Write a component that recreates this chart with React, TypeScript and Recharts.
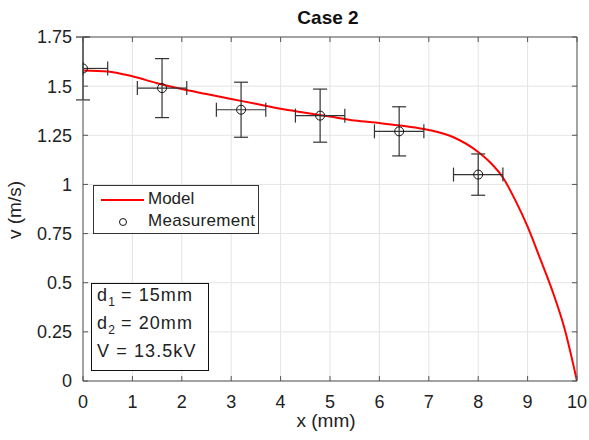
import {
  CartesianGrid,
  ComposedChart,
  ErrorBar,
  Legend,
  Line,
  Scatter,
  XAxis,
  YAxis,
} from "recharts"

// model curve
const MODEL_X = [0, 0.5, 1, 1.5, 2, 2.5, 3, 3.5, 4, 4.5, 5, 5.5, 6, 6.5, 7, 7.5, 8, 8.25, 8.5, 8.75, 9, 9.25, 9.5, 9.75, 10]
const MODEL_V = [1.58, 1.575, 1.55, 1.515, 1.485, 1.46, 1.435, 1.41, 1.385, 1.365, 1.345, 1.325, 1.312, 1.297, 1.277, 1.24, 1.165, 1.11, 1.035, 0.92, 0.785, 0.625, 0.46, 0.265, 0]

// measurements; error extents as drawn (first point is cut by the axes)
const MEAS_X = [0, 1.6, 3.2, 4.8, 6.4, 8]
const MEAS_V = [1.59, 1.49, 1.38, 1.35, 1.27, 1.05]
const MEAS_ERR_X_LO = [0, 0.5, 0.5, 0.5, 0.5, 0.5]
const MEAS_ERR_X_HI = [0.5, 0.5, 0.5, 0.5, 0.5, 0.5]
const MEAS_ERR_V = [0.16, 0.15, 0.14, 0.135, 0.125, 0.105]

const X_TICKS = [0, 1, 2, 3, 4, 5, 6, 7, 8, 9, 10]
const Y_TICKS = [0, 0.25, 0.5, 0.75, 1, 1.25, 1.5, 1.75]

const FONT = "'Liberation Sans', Arial, sans-serif"
const AXIS_COLOR = "#555555"
const TEXT_COLOR = "#222222"

const modelData = MODEL_X.map((x, i) => ({ x, v: MODEL_V[i] }))
const measData = MEAS_X.map((x, i) => ({
  x,
  v: MEAS_V[i],
  ex: [MEAS_ERR_X_LO[i], MEAS_ERR_X_HI[i]],
  ev: MEAS_ERR_V[i],
}))

function OpenCircle(props: any) {
  const { cx, cy } = props
  if (cx == null || cy == null) return null
  return <circle cx={cx} cy={cy} r={4.5} fill="none" stroke="#111" strokeWidth={1} />
}

function LegendBox() {
  return (
    <div
      style={{
        width: 166,
        height: 49,
        border: "1px solid #333",
        background: "#fff",
        fontFamily: FONT,
        fontSize: 17,
        color: TEXT_COLOR,
        boxSizing: "border-box",
        position: "relative",
      }}
    >
      <svg width={52} height={48} style={{ position: "absolute", left: 0, top: 0 }}>
        <line x1={7} x2={50} y1={14} y2={14} stroke="#ff0000" strokeWidth={2} />
        <circle cx={29} cy={36} r={3.5} fill="none" stroke="#111" strokeWidth={1} />
      </svg>
      <div style={{ position: "absolute", left: 54, top: 3, lineHeight: "20px" }}>Model</div>
      <div style={{ position: "absolute", left: 54, top: 25, lineHeight: "20px", letterSpacing: 0.3 }}>
        Measurement
      </div>
    </div>
  )
}

const emptyTick = () => <g />

const subStyle = { fontSize: 12, position: "relative" as const, top: 5, letterSpacing: 0 }
const noteLine = { position: "absolute" as const, left: 5, lineHeight: "18px", whiteSpace: "nowrap" as const }

export default function App() {
  return (
    <div style={{ position: "absolute", left: 0, top: 0, width: 589, height: 440, background: "#fff" }}>
      <ComposedChart
        width={589}
        height={440}
        margin={{ top: 35, right: 10, bottom: 14, left: 23 }}
      >
        <CartesianGrid stroke="#e4e4e4" xAxisId="bottom" yAxisId="left" />
        <XAxis
          xAxisId="bottom"
          type="number"
          dataKey="x"
          domain={[0, 10]}
          ticks={X_TICKS}
          allowDataOverflow
          height={45}
          stroke={AXIS_COLOR}
          tickSize={-5}
          tickMargin={19}
          tick={{ fontSize: 18, fill: TEXT_COLOR, fontFamily: FONT }}
        />
        <XAxis
          xAxisId="top"
          orientation="top"
          type="number"
          dataKey="x"
          domain={[0, 10]}
          ticks={X_TICKS}
          allowDataOverflow
          height={2}
          stroke={AXIS_COLOR}
          tickSize={-5}
          tick={emptyTick}
        />
        <YAxis
          yAxisId="left"
          type="number"
          dataKey="v"
          domain={[0, 1.75]}
          ticks={Y_TICKS}
          allowDataOverflow
          width={60}
          stroke={AXIS_COLOR}
          tickSize={-5}
          tickMargin={16}
          tick={{ fontSize: 18, fill: TEXT_COLOR, fontFamily: FONT }}
        />
        <YAxis
          yAxisId="right"
          orientation="right"
          type="number"
          domain={[0, 1.75]}
          ticks={Y_TICKS}
          allowDataOverflow
          width={2}
          stroke={AXIS_COLOR}
          tickSize={-5}
          tick={emptyTick}
        />
        <Line
          xAxisId="bottom"
          yAxisId="left"
          data={modelData}
          dataKey="v"
          type="monotone"
          stroke="#ff0000"
          strokeWidth={2}
          dot={false}
          activeDot={false}
          isAnimationActive={false}
        />
        <Scatter
          xAxisId="bottom"
          yAxisId="left"
          data={measData}
          dataKey="v"
          shape={OpenCircle}
          isAnimationActive={false}
        >
          <ErrorBar dataKey="ex" direction="x" width={7} stroke="#333" strokeWidth={1.2} isAnimationActive={false} />
          <ErrorBar dataKey="ev" direction="y" width={7} stroke="#333" strokeWidth={1.2} isAnimationActive={false} />
        </Scatter>
        <Legend
          layout="vertical"
          align="center"
          verticalAlign="middle"
          wrapperStyle={{ left: 93, top: 185, width: 166, height: 49 }}
          content={() => <LegendBox />}
        />
      </ComposedChart>

      <div
        style={{
          position: "absolute",
          left: 228,
          width: 200,
          top: 7,
          textAlign: "center",
          fontFamily: FONT,
          fontSize: 19,
          fontWeight: "bold",
          color: "#111",
        }}
      >
        Case 2
      </div>
      <div
        style={{
          position: "absolute",
          left: 226,
          width: 200,
          top: 410,
          textAlign: "center",
          fontFamily: FONT,
          fontSize: 19,
          lineHeight: "22px",
          color: TEXT_COLOR,
        }}
      >
        x (mm)
      </div>
      <div
        style={{
          position: "absolute",
          left: 15,
          top: 210,
          width: 100,
          textAlign: "center",
          fontFamily: FONT,
          fontSize: 19,
          lineHeight: "22px",
          color: TEXT_COLOR,
          transform: "translate(-50%, -50%) rotate(-90deg)",
        }}
      >
        v (m/s)
      </div>
      <div
        style={{
          position: "absolute",
          left: 91,
          top: 283,
          width: 118,
          height: 88,
          boxSizing: "border-box",
          border: "1.5px solid #111",
          background: "#fff",
          fontFamily: FONT,
          fontSize: 18,
          letterSpacing: 1.1,
          color: TEXT_COLOR,
        }}
      >
        <div style={{ ...noteLine, top: 2 }}>
          d<span style={subStyle}>1</span> = 15mm
        </div>
        <div style={{ ...noteLine, top: 30 }}>
          d<span style={subStyle}>2</span> = 20mm
        </div>
        <div style={{ ...noteLine, top: 58 }}>V = 13.5kV</div>
      </div>
    </div>
  )
}
